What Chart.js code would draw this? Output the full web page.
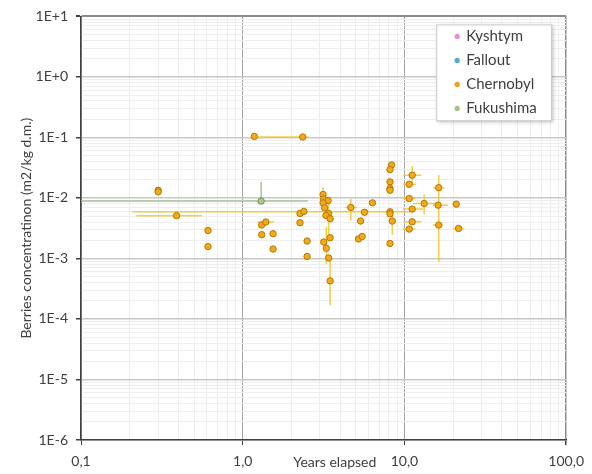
<!DOCTYPE html>
<html>
<head>
<meta charset="utf-8">
<title>Berries concentration</title>
<script src="https://cdn.jsdelivr.net/npm/chart.js@4.4.1/dist/chart.umd.min.js"></script>
<style>
  html, body { margin: 0; padding: 0; background: #ffffff; }
  canvas { display: block; }
</style>
</head>
<body>
<canvas id="berriesChart" width="592" height="474"></canvas>
<script>
// Axis decades and their labels (comma decimals as in the original sheet)
const xDecades = [0.1, 1, 10, 100];
const xTickLabels = ['0,1', '1,0', '10,0', '100,0'];
const yDecades = [1e-6, 1e-5, 1e-4, 1e-3, 1e-2, 1e-1, 1, 10];
const yTickLabels = ['1E-6', '1E-5', '1E-4', '1E-3', '1E-2', '1E-1', '1E+0', '1E+1'];

// Chernobyl: years elapsed / concentration
const chernobylX = [0.30, 0.30, 0.39, 0.61, 0.61, 1.18, 2.35, 1.31, 1.39, 1.31,
  1.54, 1.54, 2.26, 2.39, 2.26, 2.50, 2.50, 3.14, 3.17, 3.37,
  3.14, 3.21, 3.40, 3.27, 3.47, 3.17, 3.47, 3.29, 3.40, 3.47,
  4.66, 5.66, 5.35, 5.20, 5.48, 6.34, 8.33, 8.14, 8.14, 8.14,
  8.14, 8.14, 8.14, 8.41, 8.14, 11.17, 10.70, 10.70, 11.17, 11.17,
  10.70, 13.24, 16.29, 16.14, 16.29, 20.9, 21.6];
const chernobylY = [0.0134, 0.0126, 0.0051, 0.0029, 0.00157, 0.104, 0.1015, 0.00357, 0.0040, 0.00247,
  0.00256, 0.00143, 0.00553, 0.0060, 0.00389, 0.00194, 0.00108, 0.0114, 0.00955, 0.00906,
  0.0083, 0.00687, 0.00553, 0.00513, 0.00453, 0.00187, 0.0022, 0.00147, 0.00102, 0.000426,
  0.00695, 0.00579, 0.00415, 0.0021, 0.00231, 0.0083, 0.0351, 0.0294, 0.0184, 0.0143,
  0.0134, 0.0059, 0.00547, 0.00415, 0.00177, 0.0238, 0.0168, 0.00977, 0.00654, 0.00404,
  0.00306, 0.00809, 0.0148, 0.0076, 0.00356, 0.0079, 0.00313];
// error ranges: [point index, low, high]
const chernobylXErr = [[2, 0.22, 0.56], [6, 1.21, 2.56], [8, 1.23, 1.56], [30, 4.31, 5.08],
  [41, 0.208, 10.9], [45, 9.83, 12.7], [46, 9.83, 11.8], [47, 9.83, 11.7], [48, 9.83, 13.05],
  [49, 9.83, 12.7], [50, 9.83, 11.7], [51, 11.3, 15.4], [52, 15.0, 17.7], [53, 15.0, 18.6],
  [54, 15.0, 17.3], [56, 19.95, 23.5]];
const chernobylYErr = [[17, 0.0086, 0.0152], [22, 0.0019, 0.0086], [27, 0.00082, 0.00334],
  [29, 0.000167, 0.00107], [30, 0.0042, 0.0097], [43, 0.00247, 0.00637], [45, 0.0173, 0.0338],
  [51, 0.00527, 0.01125], [52, 0.0077, 0.024], [54, 0.000885, 0.0077]];

// Fukushima
const fukushimaX = [1.30];
const fukushimaY = [0.00886];
const fukushimaXErr = [[0, 0.05, 2.53]];
const fukushimaYErr = [[0, 0.0082, 0.0184]];

// Kyshtym and Fallout have no points in this range
const kyshtymX = [];
const kyshtymY = [];
const falloutX = [];
const falloutY = [];

const FONT = 'Lato, "Open Sans", sans-serif';
const TEXT = '#404040';

function toPoints(xs, ys) {
  return xs.map((x, i) => ({ x: x, y: ys[i] }));
}

// decade ticks plus 2..9 minor ticks in between
function logTicks(decades) {
  const ticks = [];
  decades.forEach((d, i) => {
    ticks.push({ value: d, major: true });
    if (i < decades.length - 1) {
      for (let m = 2; m <= 9; m++) ticks.push({ value: d * m, major: false });
    }
  });
  return ticks;
}

function decadeLabel(value, decades, labels) {
  const i = decades.findIndex(d => Math.abs(Math.log10(d) - Math.log10(value)) < 1e-6);
  return i >= 0 ? labels[i] : '';
}

const errorBars = {
  id: 'errorBars',
  beforeDatasetsDraw(chart) {
    const { ctx, chartArea, scales } = chart;
    ctx.save();
    ctx.beginPath();
    ctx.rect(chartArea.left, chartArea.top, chartArea.width, chartArea.height);
    ctx.clip();
    chart.data.datasets.forEach(ds => {
      ctx.strokeStyle = ds.errColor;
      ctx.lineWidth = 1.5;
      (ds.errX || []).forEach(([i, lo, hi]) => {
        const py = scales.y.getPixelForValue(ds.data[i].y);
        ctx.beginPath();
        ctx.moveTo(scales.x.getPixelForValue(lo), py);
        ctx.lineTo(scales.x.getPixelForValue(hi), py);
        ctx.stroke();
      });
      (ds.errY || []).forEach(([i, lo, hi]) => {
        const px = scales.x.getPixelForValue(ds.data[i].x);
        ctx.beginPath();
        ctx.moveTo(px, scales.y.getPixelForValue(lo));
        ctx.lineTo(px, scales.y.getPixelForValue(hi));
        ctx.stroke();
      });
    });
    ctx.restore();
  }
};

// boxed legend in the upper right corner of the plot, plus the x axis title
const boxLegend = {
  id: 'boxLegend',
  afterDraw(chart) {
    const { ctx, chartArea } = chart;
    const w = 115, rowH = 24;
    const left = chartArea.right - 15 - w;
    const top = chartArea.top + 8;
    const h = rowH * chart.data.datasets.length;
    ctx.save();
    ctx.shadowColor = 'rgba(0,0,0,0.25)';
    ctx.shadowBlur = 4;
    ctx.shadowOffsetX = 2;
    ctx.shadowOffsetY = 2;
    ctx.fillStyle = '#ffffff';
    ctx.fillRect(left, top, w, h);
    ctx.restore();
    ctx.save();
    ctx.strokeStyle = '#c8c8c8';
    ctx.lineWidth = 1;
    ctx.strokeRect(left + 0.5, top + 0.5, w, h);
    ctx.font = '15px ' + FONT;
    ctx.textBaseline = 'middle';
    chart.data.datasets.forEach((ds, i) => {
      const cy = top + 12 + i * rowH;
      ctx.beginPath();
      ctx.arc(left + 21, cy, 2.6, 0, Math.PI * 2);
      ctx.fillStyle = ds.legendColor;
      ctx.fill();
      ctx.fillStyle = TEXT;
      ctx.fillText(ds.label, left + 30, cy);
    });
    ctx.font = '14px ' + FONT;
    ctx.textAlign = 'center';
    ctx.fillText('Years elapsed', chartArea.left + chartArea.width * 0.523, 462);
    ctx.restore();
  }
};

const chart = new Chart(document.getElementById('berriesChart'), {
  type: 'scatter',
  data: {
    datasets: [
      {
        label: 'Kyshtym', data: toPoints(kyshtymX, kyshtymY),
        backgroundColor: '#e88ad8', borderColor: '#b860a8', legendColor: '#e88ad8'
      },
      {
        label: 'Fallout', data: toPoints(falloutX, falloutY),
        backgroundColor: '#4ea8d8', borderColor: '#2a7aa8', legendColor: '#4ea8d8'
      },
      {
        label: 'Chernobyl', data: toPoints(chernobylX, chernobylY),
        backgroundColor: '#f3a91c', borderColor: '#b57800', legendColor: '#eaa21a',
        errX: chernobylXErr, errY: chernobylYErr, errColor: 'rgba(240,196,40,0.85)'
      },
      {
        label: 'Fukushima', data: toPoints(fukushimaX, fukushimaY),
        backgroundColor: '#acc98f', borderColor: '#6f8f58', legendColor: '#a4c088',
        errX: fukushimaXErr, errY: fukushimaYErr, errColor: 'rgba(160,186,130,0.9)'
      }
    ]
  },
  options: {
    responsive: false,
    animation: false,
    layout: { padding: { top: 14, right: 23, left: 0, bottom: 0 } },
    elements: { point: { radius: 3.2, borderWidth: 1, hoverRadius: 3.2 } },
    plugins: {
      legend: { display: false },
      tooltip: { enabled: false }
    },
    scales: {
      x: {
        type: 'logarithmic',
        min: 0.1,
        max: 100,
        afterBuildTicks: scale => { scale.ticks = logTicks(xDecades); },
        afterFit: scale => { scale.height = 34; },
        border: { display: true, color: '#404040', width: 1.5 },
        grid: {
          color: c => c.tick.value === 100 ? '#8c8c8c' : (c.tick.major ? '#a4a4a4' : '#ededed'),
          lineWidth: c => c.tick.value === 100 ? 1.5 : 1,
          tickColor: c => c.tick.major ? '#404040' : 'rgba(0,0,0,0)',
          tickLength: 5
        },
        ticks: {
          autoSkip: false,
          maxRotation: 0,
          padding: 8,
          color: TEXT,
          font: { family: FONT, size: 14 },
          callback: v => decadeLabel(v, xDecades, xTickLabels)
        }
      },
      y: {
        type: 'logarithmic',
        min: 1e-6,
        max: 10,
        afterBuildTicks: scale => { scale.ticks = logTicks(yDecades); },
        afterFit: scale => { scale.width = 81; },
        border: { display: true, color: '#404040', width: 1.5 },
        grid: {
          color: c => c.tick.value === 10 ? '#8c8c8c' : (c.tick.major ? '#c8c8c8' : '#eeeeee'),
          lineWidth: c => c.tick.value === 10 ? 2 : (c.tick.major ? 1.5 : 1),
          tickColor: c => c.tick.major ? '#404040' : 'rgba(0,0,0,0)',
          tickLength: 5
        },
        ticks: {
          autoSkip: false,
          padding: 8,
          color: TEXT,
          font: { family: FONT, size: 14 },
          callback: v => decadeLabel(v, yDecades, yTickLabels)
        },
        title: {
          display: true,
          text: 'Berries concentratinon (m2/kg d.m.)',
          color: TEXT,
          font: { family: FONT, size: 14 },
          padding: { top: 18, bottom: 0 }
        }
      }
    }
  },
  plugins: [errorBars, boxLegend]
});
</script>
</body>
</html>
